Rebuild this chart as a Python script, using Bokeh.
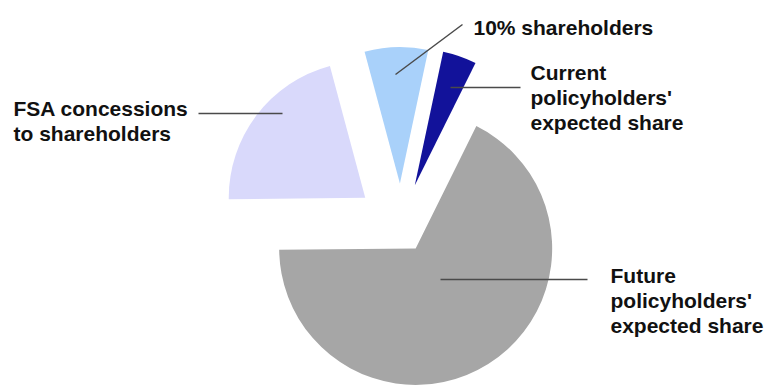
import math
from bokeh.plotting import figure
from bokeh.models import Range1d, ColumnDataSource
from bokeh.core.properties import value
from bokeh.embed import file_html
from bokeh.resources import INLINE

# ---- data ----
categories = ["10% shareholders",
              "Current\npolicyholders'\nexpected share",
              "Future\npolicyholders'\nexpected share",
              "FSA concessions\nto shareholders"]
shares = [7.5, 4.0, 67.5, 21.0]          # percent of pie
colors = ["#A9D1FA", "#12129A", "#A6A6A6", "#D9D9FB"]

# ---- layout (screen pixels, y downwards) ----
W, H = 769, 385
CX, CY = 400.5, 224.5
R = 136.5
START_DEG = -15.0                         # clockwise from 12 o'clock
explode = [41.5, 42.0, 27.6, 44.9]
label_pos = [(473, 27), (530, 72), (610, 275), (13, 108)]
leader = [((395, 74), (462, 24)), ((450, 87), (520, 87)),
          ((440, 279), (587, 279)), ((282, 113), (198, 113))]
LINE_H = 25

def fy(sy):
    return H - sy

p = figure(width=W, height=H, x_range=Range1d(0, W), y_range=Range1d(0, H),
           output_backend="svg", toolbar_location=None, min_border=0,
           x_axis_type=None, y_axis_type=None, outline_line_color=None)
p.grid.visible = False
p.background_fill_color = "white"
p.border_fill_color = "white"

total = sum(shares)
xs, ys, sa, ea = [], [], [], []
theta = START_DEG
for v, ex in zip(shares, explode):
    span = v / total * 360.0
    t1, t2 = theta, theta + span
    mid = math.radians((t1 + t2) / 2)
    sx = CX + ex * math.sin(mid)
    sy = CY - ex * math.cos(mid)
    xs.append(sx)
    ys.append(fy(sy))
    sa.append(math.radians(90 - t2))
    ea.append(math.radians(90 - t1))
    theta = t2

src = ColumnDataSource(dict(x=xs, y=ys, start=sa, end=ea, color=colors))
p.wedge(x="x", y="y", radius=R, start_angle="start", end_angle="end",
        direction="anticlock", fill_color="color", line_color=None, source=src)

# leader lines
for (a, b) in leader:
    p.line([a[0], b[0]], [fy(a[1]), fy(b[1])], line_color="#4a4a4a", line_width=1.5)

# labels
tx, ty, tt = [], [], []
for lab, (lx, ly) in zip(categories, label_pos):
    for i, line in enumerate(lab.split("\n")):
        tx.append(lx)
        ty.append(fy(ly + i * LINE_H))
        tt.append(line)
p.text(x=tx, y=ty, text=tt, text_font=value("Liberation Sans"),
       text_font_style="bold", text_font_size="21px", text_color="#111111",
       text_baseline="alphabetic", text_align="left")

open("out.html", "w").write(file_html(p, INLINE))
